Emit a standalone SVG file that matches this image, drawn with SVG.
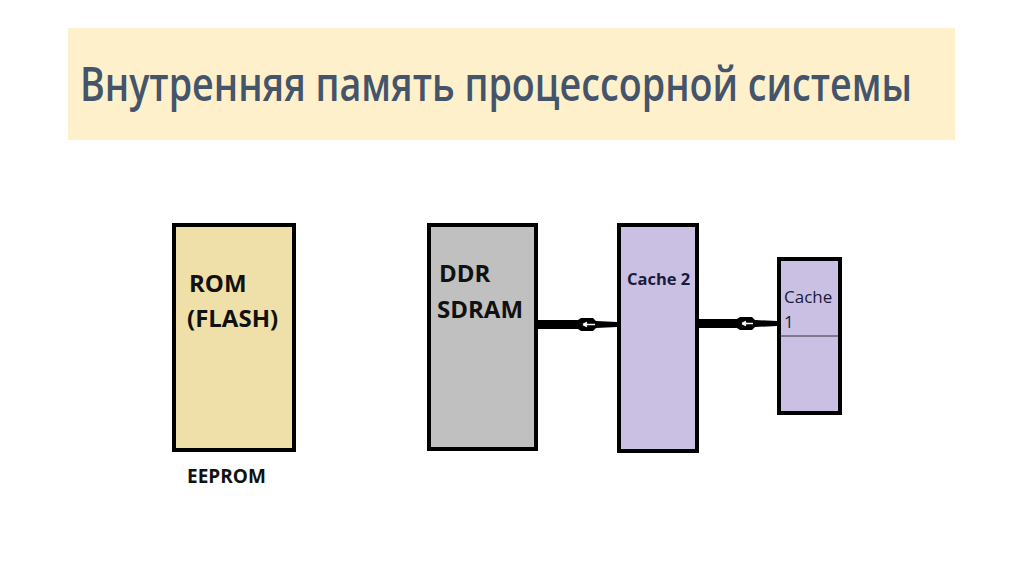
<svg xmlns="http://www.w3.org/2000/svg" width="1024" height="574" viewBox="0 0 1024 574">
<style>
.box{stroke:#000;stroke-width:4}
.big{font-family:"Open Sans","Liberation Sans",sans-serif;font-weight:bold;font-size:24px;fill:#111}
.cap{font-family:"Open Sans","Liberation Sans",sans-serif;fill:#1a1a3a}
</style>
<rect x="0" y="0" width="1024" height="574" fill="#fff"/>
<g id="title">
<rect x="68" y="28" width="887" height="112" fill="#FFF0CC"/>
<text x="80" y="101" font-family="Open Sans, Liberation Sans, sans-serif" font-size="47" font-weight="600" fill="#44546A" textLength="832" lengthAdjust="spacingAndGlyphs">Внутренняя память процессорной системы</text>
</g>
<g id="rom">
<rect class="box" x="174" y="225" width="120" height="225" fill="#EEE0A8"/>
<text class="big" x="189" y="292">ROM</text>
<text class="big" x="187" y="327">(FLASH)</text>
<text x="187" y="483" font-family="Open Sans, Liberation Sans, sans-serif" font-weight="bold" font-size="19" fill="#111">EEPROM</text>
</g>
<g id="ddr">
<rect class="box" x="429" y="225" width="107" height="224" fill="#C0C0C0"/>
<text class="big" x="439" y="282">DDR</text>
<text class="big" x="437" y="318" font-size="25">SDRAM</text>
</g>
<g id="cache2">
<rect class="box" x="619" y="225" width="78" height="226" fill="#C9C0E4"/>
<text class="cap" x="627" y="285" font-size="16.5" font-weight="bold">Cache 2</text>
</g>
<g id="cache1">
<rect class="box" x="779" y="259" width="61" height="154" fill="#C9C0E4"/>
<line x1="781" y1="336" x2="838" y2="336" stroke="#333" stroke-width="1"/>
<text class="cap" x="784" y="303" font-size="17">Cache</text>
<text class="cap" x="784" y="328" font-size="17">1</text>
</g>
<g id="connectors">
<path d="M538 320 L578 320 L581 318 L593 318 L596 321 L617 322 L617 327 L596 328 L593 331 L581 331 L578 329 L538 329 Z" fill="#000"/>
<path d="M583 324.5 L595 324.5 M583 324.5 L587 322.5 M583 324.5 L587 326.5" stroke="#fff" stroke-width="1.5" fill="none"/>
<path d="M699 319 L737 319 L740 317 L752 317 L755 320 L777 321 L777 326 L755 327 L752 330 L740 330 L737 328 L699 328 Z" fill="#000"/>
<path d="M742 323.5 L753 323.5 M742 323.5 L746 321.5 M742 323.5 L746 325.5" stroke="#fff" stroke-width="1.5" fill="none"/>
</g>
</svg>
